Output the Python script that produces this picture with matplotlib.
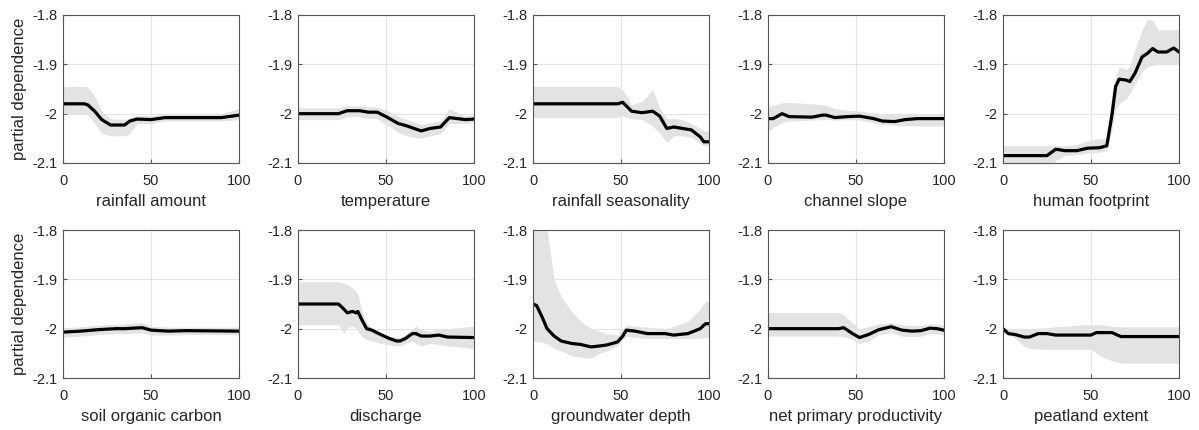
'''
partial dependence plots, 2 x 5 grid, mean line with grey uncertainty band
'''
import matplotlib
matplotlib.use('Agg')
import matplotlib.pyplot as plt

plt.rcParams['font.family'] = ['Liberation Sans', 'DejaVu Sans']

labels = ['rainfall amount', 'temperature', 'rainfall seasonality', 'channel slope',
          'human footprint', 'soil organic carbon', 'discharge', 'groundwater depth',
          'net primary productivity', 'peatland extent']

y_ticks = [-2.1, -2.0, -1.9, -1.8]
y_tick_labels = ['-2.1', '-2', '-1.9', '-1.8']
x_ticks = [0, 50, 100]

# rainfall amount
x_rain = [0, 12, 14, 18, 22, 27, 35, 38, 42, 50, 58, 90, 100]
y_rain = [-1.98, -1.98, -1.982, -1.995, -2.012, -2.023, -2.023, -2.015, -2.011, -2.012, -2.008, -2.008, -2.003]
lo_rain = [-2.0, -2.0, -2.002, -2.02, -2.04, -2.045, -2.045, -2.04, -2.02, -2.02, -2.015, -2.015, -2.012]
hi_rain = [-1.945, -1.945, -1.946, -1.965, -1.995, -2.01, -2.012, -2.008, -2.004, -2.004, -2.0, -2.0, -1.99]

# temperature
x_temp = [0, 23, 28, 35, 40, 45, 50, 57, 62, 70, 75, 81, 86, 95, 100]
y_temp = [-2.0, -2.0, -1.994, -1.994, -1.997, -1.997, -2.006, -2.02, -2.025, -2.035, -2.03, -2.027, -2.008, -2.012, -2.011]
lo_temp = [-2.012, -2.012, -2.006, -2.006, -2.01, -2.01, -2.022, -2.038, -2.045, -2.05, -2.045, -2.04, -2.02, -2.02, -2.018]
hi_temp = [-1.988, -1.988, -1.984, -1.984, -1.986, -1.987, -1.993, -2.005, -2.012, -2.022, -2.018, -2.015, -1.99, -2.005, -2.004]

# rainfall seasonality
x_seas = [0, 48, 51, 56, 62, 68, 72, 76, 80, 85, 90, 95, 97, 100]
y_seas = [-1.98, -1.98, -1.977, -1.995, -1.998, -1.995, -2.005, -2.03, -2.027, -2.03, -2.033, -2.047, -2.057, -2.057]
lo_seas = [-2.008, -2.008, -2.005, -2.01, -2.012, -2.025, -2.04, -2.058, -2.045, -2.045, -2.048, -2.06, -2.065, -2.065]
hi_seas = [-1.945, -1.945, -1.952, -1.982, -1.975, -1.952, -1.988, -2.01, -2.01, -2.012, -2.02, -2.03, -2.035, -2.035]

# channel slope
x_slope = [0, 3, 8, 12, 25, 31, 33, 38, 45, 52, 60, 65, 72, 78, 85, 100]
y_slope = [-2.01, -2.01, -2.0, -2.006, -2.007, -2.003, -2.003, -2.008, -2.006, -2.005, -2.01, -2.015, -2.016, -2.012, -2.01, -2.01]
lo_slope = [-2.035, -2.028, -2.018, -2.015, -2.013, -2.012, -2.012, -2.013, -2.012, -2.013, -2.018, -2.022, -2.024, -2.024, -2.025, -2.025]
hi_slope = [-1.985, -1.983, -1.978, -1.977, -1.98, -1.982, -1.983, -1.99, -1.993, -1.995, -1.998, -2.0, -2.0, -2.0, -2.0, -2.0]

# human footprint
x_foot = [0, 25, 30, 35, 42, 48, 55, 59, 62, 64, 66, 70, 72, 75, 79, 82, 85, 88, 93, 97, 100]
y_foot = [-2.085, -2.085, -2.072, -2.075, -2.075, -2.07, -2.069, -2.065, -2.0, -1.945, -1.93, -1.932, -1.935, -1.918, -1.885, -1.878, -1.868, -1.875, -1.875, -1.867, -1.875]
lo_foot = [-2.11, -2.11, -2.095, -2.085, -2.083, -2.08, -2.078, -2.075, -2.03, -1.99, -1.98, -1.97, -1.96, -1.94, -1.915, -1.905, -1.902, -1.9, -1.9, -1.9, -1.9]
hi_foot = [-2.065, -2.065, -2.065, -2.065, -2.062, -2.055, -2.05, -2.05, -1.96, -1.925, -1.905, -1.91, -1.905, -1.87, -1.83, -1.81, -1.81, -1.83, -1.83, -1.83, -1.83]

# soil organic carbon
x_soil = [0, 10, 20, 30, 35, 45, 50, 60, 70, 100]
y_soil = [-2.007, -2.005, -2.002, -2.0, -2.0, -1.998, -2.003, -2.005, -2.004, -2.005]
lo_soil = [-2.017, -2.015, -2.012, -2.01, -2.01, -2.008, -2.013, -2.013, -2.012, -2.012]
hi_soil = [-1.998, -1.996, -1.993, -1.991, -1.99, -1.988, -1.995, -1.997, -1.997, -1.997]

# discharge
x_dis = [0, 23, 26, 28, 31, 33, 34, 36, 39, 42, 47, 52, 56, 58, 61, 65, 67, 70, 75, 80, 85, 100]
y_dis = [-1.95, -1.95, -1.96, -1.968, -1.965, -1.968, -1.965, -1.98, -2.0, -2.003, -2.012, -2.02, -2.025, -2.025, -2.02, -2.01, -2.01, -2.015, -2.015, -2.013, -2.017, -2.018]
lo_dis = [-1.992, -1.992, -2.01, -1.998, -1.995, -2.0, -2.005, -2.015, -2.022, -2.025, -2.03, -2.033, -2.035, -2.035, -2.03, -2.025, -2.03, -2.035, -2.03, -2.032, -2.035, -2.04]
hi_dis = [-1.905, -1.905, -1.908, -1.91, -1.918, -1.925, -1.93, -1.96, -1.988, -1.998, -2.01, -2.015, -2.018, -2.018, -2.012, -2.0, -1.995, -2.002, -2.005, -2.0, -2.0, -1.995]

# groundwater depth
x_gw = [0, 2, 5, 8, 12, 16, 22, 27, 33, 38, 42, 48, 51, 53, 58, 65, 75, 80, 88, 95, 98, 100]
y_gw = [-1.95, -1.953, -1.975, -2.0, -2.015, -2.025, -2.03, -2.032, -2.037, -2.035, -2.033, -2.027, -2.015, -2.003, -2.005, -2.01, -2.01, -2.013, -2.01, -2.0, -1.99, -1.99]
lo_gw = [-2.025, -2.026, -2.028, -2.03, -2.04, -2.045, -2.055, -2.058, -2.06, -2.05, -2.045, -2.035, -2.022, -2.015, -2.018, -2.02, -2.02, -2.02, -2.02, -2.019, -2.018, -2.018]
hi_gw = [-1.75, -1.75, -1.75, -1.8, -1.9, -1.935, -1.965, -1.985, -2.0, -2.005, -2.01, -2.013, -2.0, -1.993, -1.995, -1.997, -2.0, -1.995, -1.985, -1.96, -1.945, -1.945]

# net primary productivity
x_npp = [0, 40, 43, 48, 52, 57, 63, 70, 76, 82, 87, 92, 96, 100]
y_npp = [-2.0, -2.0, -1.998, -2.01, -2.018, -2.012, -2.002, -1.996, -2.003, -2.005, -2.004, -1.999, -2.0, -2.003]
lo_npp = [-2.015, -2.015, -2.016, -2.022, -2.03, -2.025, -2.012, -2.008, -2.015, -2.016, -2.015, -2.01, -2.011, -2.012]
hi_npp = [-1.967, -1.967, -1.972, -1.988, -2.0, -1.996, -1.99, -1.988, -1.992, -1.994, -1.993, -1.99, -1.991, -1.993]

# peatland extent
x_peat = [0, 3, 7, 12, 15, 20, 25, 30, 48, 50, 53, 58, 62, 65, 67, 100]
y_peat = [-2.0, -2.01, -2.012, -2.017, -2.017, -2.01, -2.01, -2.013, -2.013, -2.013, -2.008, -2.008, -2.008, -2.013, -2.016, -2.016]
lo_peat = [-2.005, -2.012, -2.02, -2.035, -2.04, -2.041, -2.042, -2.042, -2.042, -2.04, -2.05, -2.06, -2.065, -2.068, -2.07, -2.07]
hi_peat = [-2.0, -2.0, -2.0, -2.0, -2.0, -1.999, -1.998, -1.996, -1.992, -1.992, -1.992, -1.993, -1.995, -1.996, -1.996, -1.996]

panels = [
    (x_rain, y_rain, lo_rain, hi_rain),
    (x_temp, y_temp, lo_temp, hi_temp),
    (x_seas, y_seas, lo_seas, hi_seas),
    (x_slope, y_slope, lo_slope, hi_slope),
    (x_foot, y_foot, lo_foot, hi_foot),
    (x_soil, y_soil, lo_soil, hi_soil),
    (x_dis, y_dis, lo_dis, hi_dis),
    (x_gw, y_gw, lo_gw, hi_gw),
    (x_npp, y_npp, lo_npp, hi_npp),
    (x_peat, y_peat, lo_peat, hi_peat),
]

fig = plt.figure(figsize=(11.99, 4.30), dpi=100)
W, H = 1199.0, 430.0
lefts = [63, 298, 533, 768, 1003]
tops = [15, 230]
aw, ah = 176, 148
txt = '#262626'

for i, (x, y, lo, hi) in enumerate(panels):
    row, col = divmod(i, 5)
    ax = fig.add_axes([lefts[col] / W, 1 - (tops[row] + ah) / H, aw / W, ah / H])
    ax.fill_between(x, lo, hi, color='#e3e3e3', linewidth=0, zorder=1)
    ax.plot(x, y, color='black', linewidth=2.3, zorder=3, solid_joinstyle='round')
    ax.set_xlim(0, 100)
    ax.set_ylim(-2.1, -1.8)
    ax.set_xticks(x_ticks)
    ax.set_yticks(y_ticks)
    ax.set_yticklabels(y_tick_labels)
    ax.grid(True, color='#e4e4e4', linewidth=0.8, zorder=0)
    ax.set_axisbelow(True)
    ax.tick_params(direction='in', length=3, color='#555555', labelcolor=txt, labelsize=10.5, pad=4)
    ax.tick_params(axis='x', pad=8)
    for s in ax.spines.values():
        s.set_color('#555555')
        s.set_linewidth(0.8)
        s.set_zorder(5)
    ax.set_xlabel(labels[i], fontsize=12, labelpad=4, color=txt)
    if col == 0:
        ax.set_ylabel('partial dependence', fontsize=12, labelpad=4, color=txt)

fig.savefig('out.png', dpi=100)
